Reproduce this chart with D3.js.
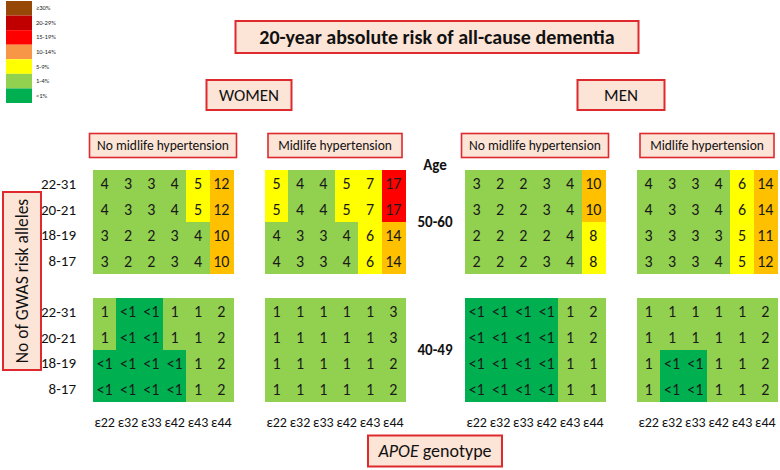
<!DOCTYPE html>
<html>
<head>
<meta charset="utf-8">
<script src="https://cdn.jsdelivr.net/npm/d3@7"></script>
<style>
  html, body { margin: 0; padding: 0; background: #fff; }
  svg { display: block; font-family: Carlito, Lato, "Open Sans", sans-serif; }
</style>
</head>
<body>
<svg id="chart" width="780" height="470"></svg>
<script>
// ---------- data ----------
const genotypes = ["ε22", "ε32", "ε33", "ε42", "ε43", "ε44"];
const alleleGroups = ["22-31", "20-21", "18-19", "8-17"];
const ageGroups = ["50-60", "40-49"];
const sexes = ["WOMEN", "MEN"];
const htnGroups = ["No midlife hypertension", "Midlife hypertension"];

const women_noHTN_50_60 = [[4,3,3,4,5,12],[4,3,3,4,5,12],[3,2,2,3,4,10],[3,2,2,3,4,10]];
const women_HTN_50_60   = [[5,4,4,5,7,17],[5,4,4,5,7,17],[4,3,3,4,6,14],[4,3,3,4,6,14]];
const men_noHTN_50_60   = [[3,2,2,3,4,10],[3,2,2,3,4,10],[2,2,2,2,4,8],[2,2,2,3,4,8]];
const men_HTN_50_60     = [[4,3,3,4,6,14],[4,3,3,4,6,14],[3,3,3,3,5,11],[3,3,3,4,5,12]];
const women_noHTN_40_49 = [[1,"<1","<1",1,1,2],[1,"<1","<1",1,1,2],["<1","<1","<1","<1",1,2],["<1","<1","<1","<1",1,2]];
const women_HTN_40_49   = [[1,1,1,1,1,3],[1,1,1,1,1,3],[1,1,1,1,1,2],[1,1,1,1,1,2]];
const men_noHTN_40_49   = [["<1","<1","<1","<1",1,2],["<1","<1","<1","<1",1,2],["<1","<1","<1","<1",1,1],["<1","<1","<1","<1",1,1]];
const men_HTN_40_49     = [[1,1,1,1,1,2],[1,1,1,1,1,2],[1,"<1","<1",1,1,2],[1,"<1","<1",1,1,2]];

const riskThresholds = [1, 5, 10, 15, 20, 30];
const cellColors = ["#00B050", "#92D050", "#FFFF00", "#FFC000", "#FF0000", "#C00000", "#974706"];
const legendLabels = ["≥30%", "20-29%", "15-19%", "10-14%", "5-9%", "1-4%", "<1%"];
const legendColors = ["#974706", "#C00000", "#FF0000", "#F79646", "#FFFF00", "#92D050", "#00B050"];

const panels = [
  { sex: "WOMEN", htn: htnGroups[0], age: "50-60", values: women_noHTN_50_60 },
  { sex: "WOMEN", htn: htnGroups[1], age: "50-60", values: women_HTN_50_60 },
  { sex: "MEN",   htn: htnGroups[0], age: "50-60", values: men_noHTN_50_60 },
  { sex: "MEN",   htn: htnGroups[1], age: "50-60", values: men_HTN_50_60 },
  { sex: "WOMEN", htn: htnGroups[0], age: "40-49", values: women_noHTN_40_49 },
  { sex: "WOMEN", htn: htnGroups[1], age: "40-49", values: women_HTN_40_49 },
  { sex: "MEN",   htn: htnGroups[0], age: "40-49", values: men_noHTN_40_49 },
  { sex: "MEN",   htn: htnGroups[1], age: "40-49", values: men_HTN_40_49 }
];

// ---------- scales ----------
const svg = d3.select("#chart");
const boxFill = "#FCE4D6", boxStroke = "#DE2A2E";

const sexScale = d3.scaleBand().domain(sexes).range([93, 777]).paddingInner(60 / 372);
const htnScale = d3.scaleBand().domain(htnGroups).range([0, sexScale.bandwidth()]).paddingInner(32 / 172);
const ageScale = d3.scaleBand().domain(ageGroups).range([170, 401]).paddingInner(25 / 128);
const xScale = d3.scaleBand().domain(genotypes).range([0, htnScale.bandwidth()]);
const yScale = d3.scaleBand().domain(alleleGroups).range([0, ageScale.bandwidth()]);
const color = d3.scaleThreshold().domain(riskThresholds).range(cellColors);
const numeric = v => v === "<1" ? 0.5 : +v;

function boxedText(x, y, w, h, text, opts = {}) {
  const g = svg.append("g");
  g.append("rect").attr("x", x - w / 2).attr("y", y - h / 2).attr("width", w).attr("height", h)
    .attr("fill", boxFill).attr("stroke", boxStroke).attr("stroke-width", opts.sw || 2);
  const t = g.append("text").attr("x", x).attr("y", y).attr("text-anchor", "middle")
    .attr("dominant-baseline", "central").attr("font-size", opts.size || 14)
    .attr("font-weight", opts.weight || "normal").attr("fill", "#111");
  if (opts.rotate) t.attr("transform", `rotate(-90,${x},${y})`);
  return t.text(text);
}

// ---------- legend ----------
const legendY = d3.scaleBand().domain(legendLabels).range([1, 103]);
const lg = svg.append("g");
lg.selectAll("rect").data(legendLabels).join("rect")
  .attr("x", 6).attr("y", d => legendY(d)).attr("width", 26).attr("height", legendY.bandwidth())
  .attr("fill", (d, i) => legendColors[i]);
lg.selectAll("text").data(legendLabels).join("text")
  .attr("x", 36).attr("y", d => legendY(d) + legendY.bandwidth() / 2)
  .attr("dominant-baseline", "central").attr("font-size", 6.5).attr("fill", "#222").text(d => d);

// ---------- headings ----------
boxedText(437, 37, 403, 32, "20-year absolute risk of all-cause dementia", { size: 20, weight: "bold" });
sexes.forEach(s => {
  const cx = sexScale(s) + sexScale.bandwidth() / 2;
  boxedText(cx, 95, s === "WOMEN" ? 85 : 87, 30, s, { size: 17 });
  htnGroups.forEach(h => {
    const px = sexScale(s) + htnScale(h) + htnScale.bandwidth() / 2;
    boxedText(px, 145.5, h === htnGroups[0] ? 147 : 134, 24, h, { size: 13.5, sw: 1.6 });
  });
});

// ---------- panels ----------
panels.forEach(p => {
  const ox = sexScale(p.sex) + htnScale(p.htn);
  const oy = ageScale(p.age);
  const g = svg.append("g").attr("transform", `translate(${ox},${oy})`);
  const cells = [];
  p.values.forEach((row, ri) => row.forEach((v, ci) => cells.push({ row: alleleGroups[ri], col: genotypes[ci], v })));
  g.selectAll("rect").data(cells).join("rect")
    .attr("x", d => xScale(d.col)).attr("y", d => yScale(d.row))
    .attr("width", xScale.bandwidth() + 0.5).attr("height", yScale.bandwidth() + 0.5)
    .attr("shape-rendering", "crispEdges")
    .attr("fill", d => color(numeric(d.v)));
  g.selectAll("text").data(cells).join("text")
    .attr("x", d => xScale(d.col) + xScale.bandwidth() / 2)
    .attr("y", d => yScale(d.row) + yScale.bandwidth() / 2 + 1)
    .attr("text-anchor", "middle").attr("dominant-baseline", "central")
    .attr("font-size", 16).attr("fill", "#1a1a1a").text(d => d.v);
});

// ---------- row labels ----------
ageGroups.forEach(a => {
  svg.append("g").selectAll("text").data(alleleGroups).join("text")
    .attr("x", 76).attr("y", d => ageScale(a) + yScale(d) + yScale.bandwidth() / 2 + 1)
    .attr("text-anchor", "end").attr("dominant-baseline", "central")
    .attr("font-size", 15).attr("fill", "#111").text(d => d);
  svg.append("text").attr("x", 435).attr("y", ageScale(a) + ageScale.bandwidth() / 2)
    .attr("text-anchor", "middle").attr("dominant-baseline", "central")
    .attr("font-size", 15).attr("font-weight", "bold").attr("fill", "#111").text(a);
});
svg.append("text").attr("x", 435).attr("y", 165).attr("text-anchor", "middle")
  .attr("dominant-baseline", "central").attr("font-size", 15).attr("font-weight", "bold")
  .attr("fill", "#111").text("Age");

// ---------- column labels ----------
panels.filter(p => p.age === ageGroups[1]).forEach(p => {
  const ox = sexScale(p.sex) + htnScale(p.htn);
  svg.append("g").selectAll("text").data(genotypes).join("text")
    .attr("x", d => ox + xScale(d) + xScale.bandwidth() / 2).attr("y", 422)
    .attr("text-anchor", "middle").attr("dominant-baseline", "central")
    .attr("font-size", 14).attr("fill", "#111").text(d => d);
});

// ---------- axis titles ----------
boxedText(22, 281, 38, 178, "No of GWAS risk alleles", { size: 17.5, rotate: true });
const apoe = boxedText(435, 451, 134, 31, "", { size: 18 });
apoe.append("tspan").attr("font-style", "italic").text("APOE");
apoe.append("tspan").text(" genotype");
</script>
</body>
</html>
